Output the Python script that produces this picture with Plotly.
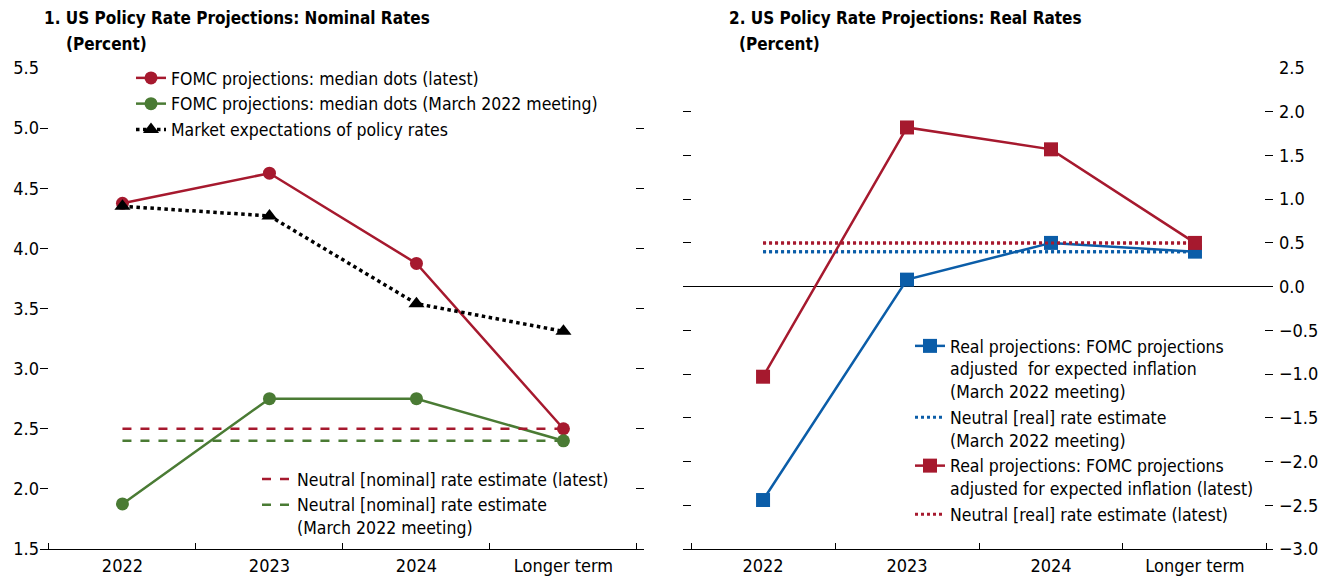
import plotly.graph_objects as go
from plotly.subplots import make_subplots

# --- data ---
categories = ["2022", "2023", "2024", "Longer term"]

fomc_latest = [4.375, 4.625, 3.875, 2.5]
fomc_march = [1.875, 2.75, 2.75, 2.4]
market_exp = [4.35, 4.27, 3.54, 3.31]
neutral_nominal_latest = [2.5, 2.5, 2.5, 2.5]
neutral_nominal_march = [2.4, 2.4, 2.4, 2.4]

real_march = [-2.44, 0.08, 0.5, 0.4]
real_latest = [-1.03, 1.82, 1.57, 0.5]
neutral_real_march = [0.4, 0.4, 0.4, 0.4]
neutral_real_latest = [0.5, 0.5, 0.5, 0.5]

left_ticks = [1.5, 2.0, 2.5, 3.0, 3.5, 4.0, 4.5, 5.0, 5.5]
right_ticks = [-3.0, -2.5, -2.0, -1.5, -1.0, -0.5, 0.0, 0.5, 1.0, 1.5, 2.0, 2.5]

RED = "#A6192E"
GREEN = "#4A7B34"
BLUE = "#0B5DA8"
FONT = "DejaVu Sans Condensed, Liberation Sans Narrow, Arial Narrow, sans-serif"

W, H = 1331, 580
ML, MR, MT, MB = 40, 58, 68, 31
PW = W - ML - MR
PH = H - MT - MB


def px_x(x):
    return (x - ML) / PW


def px_y(y):
    return (H - MB - y) / PH


fig = make_subplots(rows=1, cols=2)

# left panel
fig.add_trace(go.Scatter(
    x=categories, y=fomc_latest, name="FOMC projections: median dots (latest)",
    mode="lines+markers", line=dict(color=RED, width=2.5),
    marker=dict(symbol="circle", size=13, color=RED), legend="legend"), row=1, col=1)
fig.add_trace(go.Scatter(
    x=categories, y=fomc_march, name="FOMC projections: median dots (March 2022 meeting)",
    mode="lines+markers", line=dict(color=GREEN, width=2.5),
    marker=dict(symbol="circle", size=13, color=GREEN), legend="legend"), row=1, col=1)
fig.add_trace(go.Scatter(
    x=categories, y=market_exp, name="Market expectations of policy rates",
    mode="lines+markers", line=dict(color="black", width=3.5, dash="dot"),
    marker=dict(symbol="triangle-up", size=14, color="black"), legend="legend"), row=1, col=1)
fig.add_trace(go.Scatter(
    x=categories, y=neutral_nominal_latest, name="Neutral [nominal] rate estimate (latest)",
    mode="lines", line=dict(color=RED, width=2.5, dash="dash"), legend="legend2"), row=1, col=1)
fig.add_trace(go.Scatter(
    x=categories, y=neutral_nominal_march,
    name="Neutral [nominal] rate estimate<br>(March 2022 meeting)",
    mode="lines", line=dict(color=GREEN, width=2.5, dash="dash"), legend="legend2"), row=1, col=1)

# right panel
fig.add_trace(go.Scatter(
    x=categories, y=neutral_real_march, showlegend=False, hoverinfo="skip",
    mode="lines", line=dict(color=BLUE, width=3, dash="dot")), row=1, col=2)
fig.add_trace(go.Scatter(
    x=categories, y=neutral_real_latest, showlegend=False, hoverinfo="skip",
    mode="lines", line=dict(color=RED, width=3, dash="dot")), row=1, col=2)
fig.add_trace(go.Scatter(
    x=categories, y=real_march,
    name="Real projections: FOMC projections<br>adjusted  for expected inflation<br>(March 2022 meeting)",
    mode="lines+markers", line=dict(color=BLUE, width=2.5),
    marker=dict(symbol="square", size=14, color=BLUE), legend="legend3"), row=1, col=2)
fig.add_trace(go.Scatter(
    x=categories, y=neutral_real_march,
    name="Neutral [real] rate estimate<br>(March 2022 meeting)",
    mode="lines", line=dict(color=BLUE, width=3, dash="dot"), legend="legend3"), row=1, col=2)
fig.add_trace(go.Scatter(
    x=categories, y=real_latest,
    name="Real projections: FOMC projections<br>adjusted for expected inflation (latest)",
    mode="lines+markers", line=dict(color=RED, width=2.5),
    marker=dict(symbol="square", size=14, color=RED), legend="legend3"), row=1, col=2)
fig.add_trace(go.Scatter(
    x=categories, y=neutral_real_latest, name="Neutral [real] rate estimate (latest)",
    mode="lines", line=dict(color=RED, width=3, dash="dot"), legend="legend3"), row=1, col=2)

legend_common = dict(font=dict(family=FONT, size=17.5, color="black"), bgcolor="rgba(0,0,0,0)",
                     xanchor="left", yanchor="top", valign="top", tracegroupgap=0,
                     traceorder="normal", itemclick=False)

fig.update_layout(
    width=W, height=H,
    margin=dict(l=ML, r=MR, t=MT, b=MB, autoexpand=False),
    plot_bgcolor="white", paper_bgcolor="white",
    font=dict(family=FONT, size=18, color="black"),
    showlegend=True,
    legend=dict(x=px_x(131), y=px_y(60), **legend_common),
    legend2=dict(x=px_x(257), y=px_y(461), **legend_common),
    legend3=dict(x=px_x(910), y=px_y(328), **legend_common),
    xaxis=dict(domain=[0, px_x(644)]),
    xaxis2=dict(domain=[px_x(683), 1]),
)

xcommon = dict(type="category", showline=True, linecolor="black", linewidth=1,
               ticks="inside", ticklen=6, tickcolor="black", tickson="boundaries",
               showgrid=False, zeroline=False, automargin=False, tickfont=dict(size=18))
fig.update_xaxes(range=[-0.561, 3.548], **xcommon, row=1, col=1)
fig.update_xaxes(range=[-0.556, 3.542], **xcommon, row=1, col=2)

fig.update_yaxes(range=[1.5, 5.5], tickvals=left_ticks, tickformat=".1f",
                 ticks="inside", ticklen=8, tickcolor="black", mirror="ticks",
                 showline=False, showgrid=False, zeroline=False, automargin=False,
                 row=1, col=1)
fig.update_yaxes(range=[-3.0, 2.5], tickvals=right_ticks, tickformat=".1f", side="right",
                 ticks="inside", ticklen=8, tickcolor="black", mirror="ticks",
                 ticklabelstandoff=5,
                 showline=False, showgrid=False, zeroline=True, zerolinecolor="black",
                 zerolinewidth=1, automargin=False, row=1, col=2)

titles = [
    (42, 18, "<b>1. US Policy Rate Projections: Nominal Rates</b>"),
    (64, 44, "<b>(Percent)</b>"),
    (727, 18, "<b>2. US Policy Rate Projections: Real Rates</b>"),
    (737, 44, "<b>(Percent)</b>"),
]
for x, y, t in titles:
    fig.add_annotation(x=px_x(x), y=px_y(y), xref="paper", yref="paper", text=t,
                       showarrow=False, xanchor="left", yanchor="middle",
                       font=dict(family=FONT, size=17, color="black"))

fig.write_html("out.html", config={"displayModeBar": False})

# drop the browser's default body margin so the figure sits at the page origin
with open("out.html", encoding="utf-8") as f:
    html = f.read()
html = html.replace("<body>", '<body style="margin:0;overflow:hidden">', 1)
with open("out.html", "w", encoding="utf-8") as f:
    f.write(html)
